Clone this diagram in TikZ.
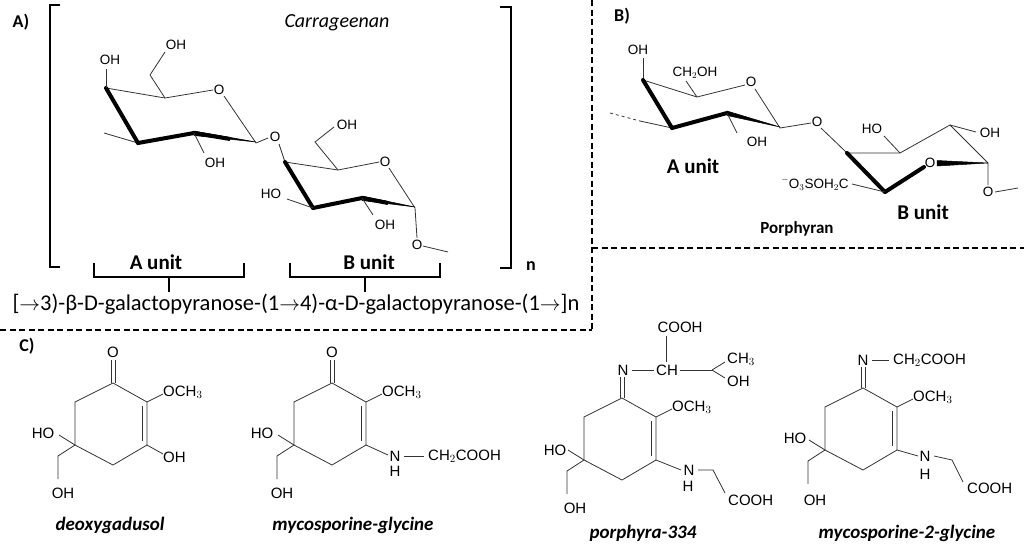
\documentclass[tikz,border=0pt]{standalone}
\usepackage{fontspec}
\setmainfont{Carlito}
\newfontfamily\arial{Liberation Sans}
\begin{document}
\begin{tikzpicture}[x=1pt,y=-1pt,
  bond/.style={line width=0.8pt,black!80},
  wedge/.style={line width=4pt,line cap=round},
  lab/.style={font=\arial\fontsize{15}{15}\selectfont,inner sep=0pt},
  slab/.style={font=\arial\fontsize{13.5}{13.5}\selectfont,inner sep=0pt},
  capt/.style={font=\bfseries\itshape\fontsize{19}{19}\selectfont,inner sep=0pt},
  bold/.style={font=\bfseries\fontsize{21}{21}\selectfont,inner sep=0pt},
  plab/.style={font=\bfseries\fontsize{18}{18}\selectfont,inner sep=0pt},
  brk/.style={line width=2.2pt},
  sep/.style={line width=1.6pt,dash pattern=on 6pt off 3.5pt}]
\useasboundingbox (0,0) rectangle (1024,552);
% separators
\draw[sep] (592,0) -- (592,330) coordinate (s1);
\draw[sep] (0,330) -- (592,330);
\draw[sep] (592,248) -- (1024,248);
% ---------- A ----------
\node[plab] (pA) at (21,22) {A)};
\node[inner sep=0pt,font=\itshape\fontsize{20}{20}\selectfont] (carr) at (337,23) {Carrageenan};
\draw[brk] (60,5) -- (50,5) -- (50,267) -- (60,267);
\draw[brk] (500,7) -- (511,7) -- (511,268) -- (500,268);
\node[plab] (n1) at (531,266) {n};
% sugar A
\draw[bond] (104,133) -- (138,143);
\draw[bond] (106,88) -- (165,98) -- (213,90);
\draw[bond] (224,96) -- (256,143) -- (268,138);
\draw[wedge] (106,88) -- (138,143);
\draw[wedge] (138,143) -- (194,133);
\draw[line width=0.5pt,fill] (194,131) -- (256,142) -- (194,135.5) -- cycle;
\draw[line width=4pt] (194,133) -- (230,139);
\draw[bond] (106,88) -- (106,69);
\node[slab] (a1) at (110,60) {OH};
\draw[bond] (165,98) -- (150,75) -- (165,52);
\node[slab] (a2) at (176,45) {OH};
\node[slab] (a3) at (219,90) {O};
\node[slab] (a4) at (275,137) {O};
\draw[bond] (194,133) -- (204,153);
\node[slab] (a5) at (215,163) {OH};
% sugar B
\draw[bond] (279,144) -- (285,162);
\draw[bond] (285,162) -- (338,170) -- (379,162);
\draw[bond] (389,168) -- (415,208) -- (417,238);
\draw[wedge] (285,162) -- (313,208);
\draw[wedge] (313,208) -- (362,198);
\draw[line width=0.5pt,fill] (362,196) -- (415,207) -- (362,200.5) -- cycle;
\draw[line width=4pt] (362,198) -- (388,203);
\draw[bond] (338,170) -- (315,142) -- (334,127);
\node[slab] (b1) at (347,125) {OH};
\node[slab] (b2) at (385,162) {O};
\draw[bond] (287,199) -- (313,208);
\node[slab] (b3) at (271,194) {HO};
\draw[bond] (362,198) -- (373,215);
\node[slab] (b4) at (385,225) {OH};
\node[slab] (b5) at (417,245) {O};
\draw[bond] (423,246) -- (448,252);
% braces
\draw[brk] (94,263) -- (94,277) -- (244,277) -- (244,263);
\draw[brk] (169,277) -- (169,292);
\draw[brk] (290,263) -- (290,277) -- (440,277) -- (440,263);
\draw[brk] (365,277) -- (365,292);
\node[bold] (au) at (156,262) {A unit};
\node[bold] (bu) at (369,262) {B unit};
\node[inner sep=0pt,font=\fontsize{22.5}{22.5}\selectfont] (form) at (296,304) {[$\to$3)-β-D-galactopyranose-(1$\to$4)-α-D-galactopyranose-(1$\to$]n};
% ---------- B ----------
\node[plab] (pB) at (622,16) {B)};
\draw[bond,dashed] (610,113) -- (640,121);
\draw[bond] (640,121) -- (672,128);
\draw[bond] (643,80) -- (643,58);
\node[slab] (c1) at (638,50) {OH};
\draw[bond] (643,80) -- (697,97) -- (745,85);
\draw[bond] (697,97) -- (686,81);
\node[slab] (c2) at (695,73) {CH$_2$OH};
\node[slab] (c3) at (751,82) {O};
\draw[bond] (755,89) -- (780,128) -- (811,123);
\draw[wedge] (643,80) -- (672,128);
\draw[wedge] (672,128) -- (727,113);
\draw[line width=0.5pt,fill] (727,111) -- (780,127) -- (727,115.5) -- cycle;
\draw[bond] (727,113) -- (737,133);
\node[slab] (c4) at (757,142) {OH};
\node[slab] (c5) at (817,122) {O};
\node[bold] (cu) at (693,166) {A unit};
\draw[bond] (821,128) -- (847,153);
\draw[bond] (847,153) -- (900,153) -- (950,125) -- (988,163) -- (988,185);
\draw[bond] (950,125) -- (976,132);
\node[slab] (c6) at (990,133) {OH};
\draw[bond] (900,153) -- (884,136);
\node[slab] (c7) at (872,129) {HO};
\draw[wedge] (847,153) -- (885,192);
\draw[wedge] (885,192) -- (924,167);
\draw[line width=0.5pt,fill] (937,160.5) -- (988,163) -- (937,166) -- cycle;
\node[slab] (c8) at (930,163) {O};
\draw[bond] (885,192) -- (852,184);
\node[slab] (c9) at (815,184) {$^-$O$_3$SOH$_2$C};
\node[slab] (c10) at (988,192) {O};
\draw[bond] (995,192) -- (1018,188);
\node[bold] (du) at (923,212) {B unit};
\node[font=\bfseries\fontsize{17}{17}\selectfont,inner sep=0pt] (porph) at (797,229) {Porphyran};
% ---------- C ----------
\node[plab] (pC) at (27,346) {C)};
\newcommand\myring{%
  \draw[bond] (0,0) -- (34,19) -- (34,62) -- (0,82) -- (-38,62) -- (-38,19) -- cycle;
  \draw[bond] (29,23) -- (29,58);
  \draw[bond] (-38,62) -- (-54,52);
  \draw[bond] (-38,62) -- (-55,73) -- (-55,96);
  \draw[bond] (34,19) -- (50,11);
}
% deoxygadusol
\begin{scope}[shift={(113,383)}]
\myring
\draw[bond] (-2,0) -- (-2,-23); \draw[bond] (2,0) -- (2,-23);
\node[lab] (d1) at (0,-31) {O};
\node[lab,anchor=west] (d2) at (50,9) {OCH$_3$};
\draw[bond] (34,62) -- (50,71);
\node[lab,anchor=west] (d3) at (50,74) {OH};
\node[lab] (d4) at (-70,50) {HO};
\node[lab] (d5) at (-50,110) {OH};
\end{scope}
\node[capt] (dl) at (110,525) {deoxygadusol};
% mycosporine-glycine
\begin{scope}[shift={(332,383)}]
\myring
\draw[bond] (-2,0) -- (-2,-23); \draw[bond] (2,0) -- (2,-23);
\node[lab] (e1) at (0,-31) {O};
\node[lab,anchor=west] (e2) at (50,9) {OCH$_3$};
\draw[bond] (34,62) -- (56,72);
\node[lab] (e3) at (63,73) {N};
\node[lab] (e4) at (63,88) {H};
\draw[bond] (72,73) -- (92,73);
\node[lab,anchor=west] (e5) at (96,73) {CH$_2$COOH};
\node[lab] (e6) at (-70,50) {HO};
\node[lab] (e7) at (-50,110) {OH};
\end{scope}
\node[capt] (el) at (353,525) {mycosporine-glycine};
% porphyra-334
\begin{scope}[shift={(622,398)}]
\myring
\draw[bond] (-2,0) -- (-2,-21); \draw[bond] (2,0) -- (2,-21);
\node[lab] (f1) at (1,-28) {N};
\draw[bond] (10,-28) -- (32,-28);
\node[lab] (f2) at (45,-28) {CH};
\draw[bond] (44,-36) -- (44,-62);
\node[lab] (f3) at (58,-71) {COOH};
\draw[bond] (58,-28) -- (90,-28);
\draw[bond] (90,-28) -- (103,-36);
\draw[bond] (90,-28) -- (103,-20);
\node[lab,anchor=west] (f4) at (105,-39) {CH$_3$};
\node[lab,anchor=west] (f5) at (105,-17) {OH};
\node[lab,anchor=west] (f6) at (50,9) {OCH$_3$};
\draw[bond] (34,62) -- (59,72);
\node[lab] (f7) at (67,72) {N};
\node[lab] (f8) at (66,88) {H};
\draw[bond] (76,72) -- (91,72) -- (103,95);
\node[lab,anchor=west] (f9) at (106,102) {COOH};
\node[lab] (f10) at (-67,52) {HO};
\node[lab] (f11) at (-47,110) {OH};
\end{scope}
\node[capt] (fl) at (643,533) {porphyra-334};
% mycosporine-2-glycine
\begin{scope}[shift={(863,388)}]
\myring
\draw[bond] (-2,0) -- (-2,-21); \draw[bond] (2,0) -- (2,-21);
\node[lab] (g1) at (0,-28) {N};
\draw[bond] (9,-28) -- (26,-28);
\node[lab,anchor=west] (g2) at (30,-28) {CH$_2$COOH};
\node[lab,anchor=west] (g3) at (50,9) {OCH$_3$};
\draw[bond] (34,62) -- (55,68);
\node[lab] (g4) at (62,68) {N};
\node[lab] (g5) at (62,86) {H};
\draw[bond] (71,68) -- (89,72) -- (100,94);
\node[lab,anchor=west] (g6) at (104,100) {COOH};
\node[lab] (g7) at (-68,50) {HO};
\node[lab] (g8) at (-48,112) {OH};
\end{scope}
\node[capt] (gl) at (907,533) {mycosporine-2-glycine};
\end{tikzpicture}
\end{document}
